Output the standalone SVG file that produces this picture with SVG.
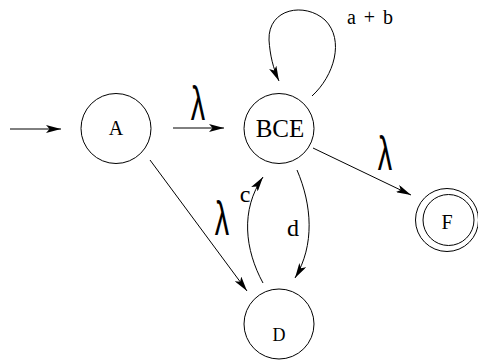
<svg xmlns="http://www.w3.org/2000/svg" width="478" height="360" viewBox="0 0 478 360">
<style>
.st{fill:none;stroke:#000;stroke-width:1}
.lb{font-family:"Liberation Serif","Times New Roman",serif;fill:#000;text-anchor:middle}
.lam{font-family:"Liberation Sans",Arial,sans-serif;fill:#000;text-anchor:middle;font-size:48px}
.ed{fill:none;stroke:#000;stroke-width:1;marker-end:url(#ah)}
</style>
<defs>
<marker id="ah" markerWidth="16" markerHeight="8" refX="15" refY="4" orient="auto" markerUnits="userSpaceOnUse">
<path d="M0,0 L15,4 L0,8 L3.5,4 Z" fill="#000"/>
</marker>
</defs>
<rect width="478" height="360" fill="#fff"/>
<g id="connectors">
<path class="ed" d="M10,129 L61,129"/>
<path class="ed" d="M173,128 L224,128"/>
<path class="ed" d="M312,96 C334,76 345,40 325,20 C305,2 268,8 269,40 C270,55 273,68 279,81"/>
<path class="ed" d="M313,148 L411,195"/>
<path class="ed" d="M150,160 L247,291"/>
<path class="ed" d="M263,283 C245,250 240,210 263,177"/>
<path class="ed" d="M297,170 C312,205 315,245 295,278"/>
</g>
<g id="labels">
<text class="lam" transform="translate(198,120) scale(0.6,1)">λ</text>
<text class="lam" transform="translate(385,170) scale(0.6,1)">λ</text>
<text class="lam" transform="translate(222,235) scale(0.6,1)">λ</text>
<text class="lb" x="370" y="24" font-size="20" word-spacing="3">a + b</text>
<text class="lb" x="245" y="202" font-size="24">c</text>
<text class="lb" x="293" y="236" font-size="24">d</text>
</g>
<g id="A"><circle class="st" cx="116" cy="128.5" r="35"/><text class="lb" x="116" y="135" font-size="20">A</text></g>
<g id="BCE"><circle class="st" cx="279" cy="128.5" r="35"/><text class="lb" x="280" y="137" font-size="25">BCE</text></g>
<g id="D"><circle class="st" cx="279" cy="324" r="35"/><text class="lb" x="279" y="341" font-size="18">D</text></g>
<g id="F"><circle class="st" cx="447" cy="220" r="31.5"/><circle class="st" cx="448.5" cy="220" r="25.5"/><text class="lb" x="447" y="229" font-size="20">F</text></g>
</svg>
